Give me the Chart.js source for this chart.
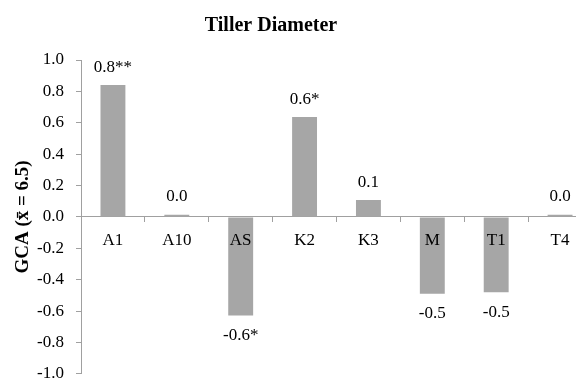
<!DOCTYPE html>
<html>
<head>
<meta charset="utf-8">
<script src="https://cdn.jsdelivr.net/npm/chart.js@4.4.0/dist/chart.umd.min.js"></script>
<style>
  html, body { margin: 0; padding: 0; background: #fff; overflow: hidden; }
  #wrap { width: 576px; height: 383px; overflow: hidden; }
  #wrap div { width: 600px; height: 396px; }
</style>
</head>
<body>
<div id="wrap"><div><canvas id="chart-1"></canvas></div></div>
<script>
const categories = ['A1', 'A10', 'AS', 'K2', 'K3', 'M', 'T1', 'T4'];
const gcaValues = [0.84, 0.013, -0.628, 0.636, 0.107, -0.49, -0.48, 0.013];
const valueLabels = ['0.8**', '0.0', '-0.6*', '0.6*', '0.1', '-0.5', '-0.5', '0.0'];
const chartTitle = 'Tiller Diameter';
const yTitle = 'GCA (x\u0304 = 6.5)';

const serif = '"Liberation Serif", "Times New Roman", serif';

// title + bar value labels
const annotate = {
  id: 'annotate',
  afterDatasetsDraw(chart) {
    const c = chart.ctx;
    c.save();
    c.fillStyle = '#000';
    c.textAlign = 'center';
    c.textBaseline = 'middle';
    c.font = '17px ' + serif;
    chart.getDatasetMeta(0).data.forEach((bar, i) => {
      const y = gcaValues[i] >= 0 ? bar.y - 18 : bar.y + 20;
      c.fillText(valueLabels[i], bar.x, y);
    });
    c.font = 'bold 20px ' + serif;
    c.fillText(chartTitle, 271, 26);
    c.restore();
  }
};

const ctx = document.getElementById('chart-1');

new Chart(ctx, {
  type: 'bar',
  data: {
    labels: categories,
    datasets: [{
      data: gcaValues,
      backgroundColor: '#a6a6a6',
      borderWidth: 0,
      barPercentage: 0.39,
      categoryPercentage: 1
    }]
  },
  options: {
    responsive: true,
    maintainAspectRatio: false,
    animation: false,
    layout: { padding: { top: 60, right: 8, bottom: 12, left: 0 } },
    plugins: {
      legend: { display: false },
      tooltip: { enabled: false }
    },
    scales: {
      x: {
        position: { y: 0 },
        afterFit(scale) { scale.height = 0; },
        grid: { drawOnChartArea: false, tickLength: 5, color: '#a0a0a0', offset: true },
        border: { color: '#a0a0a0' },
        ticks: { z: 1, color: '#000', font: { family: serif, size: 17 }, padding: 8, autoSkip: false, maxRotation: 0 }
      },
      y: {
        min: -1,
        max: 1,
        afterFit(scale) { scale.width = 81; },
        grid: { drawOnChartArea: false, tickLength: 5, color: '#a0a0a0' },
        border: { color: '#a0a0a0' },
        ticks: {
          stepSize: 0.2,
          color: '#000',
          font: { family: serif, size: 17 },
          padding: 12,
          callback: v => v.toFixed(1)
        },
        title: {
          display: true,
          text: yTitle,
          color: '#000',
          font: { family: serif, size: 19, weight: 'bold' },
          padding: { top: 12, bottom: 0 }
        }
      }
    }
  },
  plugins: [annotate]
});
</script>
</body>
</html>
